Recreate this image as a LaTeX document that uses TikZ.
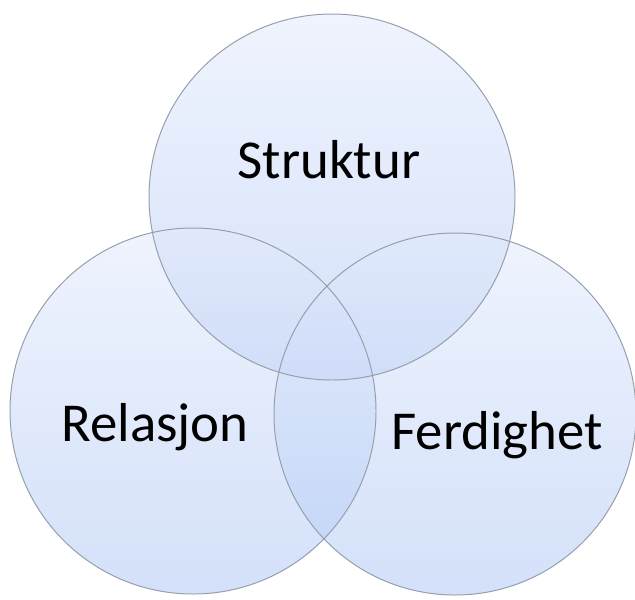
\documentclass[tikz,border=0pt]{standalone}
\usepackage{fontspec}
\setmainfont{Carlito}
\usepackage{xcolor}
\usepackage{tikz}
\definecolor{sirkeltopp}{RGB}{226,234,252}
\definecolor{sirkelbunn}{RGB}{176,200,245}
\definecolor{sirkelkant}{RGB}{150,158,172}
\def\rad{183}
\tikzset{
  sirkel/.style={circle, inner sep=0pt, minimum size=2*\rad*0.025cm,
    top color=sirkeltopp, bottom color=sirkelbunn, fill opacity=0.55},
  kant/.style={circle, inner sep=0pt, minimum size=2*\rad*0.025cm,
    draw=sirkelkant, line width=0.7pt},
  etikett/.style={font=\fontsize{39}{45}\selectfont, text=black, anchor=base}
}

\begin{document}
\begin{tikzpicture}[x=0.025cm, y=-0.025cm]
    \useasboundingbox (0,0) rectangle (635,599);

    % Sentrum for sirklene
    \coordinate (S) at (332,197);
    \coordinate (R) at (193,411);
    \coordinate (F) at (455,414);

    % Fyll
    \node[sirkel] (struktur) at (S) {};
    \node[sirkel] (relasjon) at (R) {};
    \node[sirkel, minimum size=2*181*0.025cm] (ferdighet) at (F) {};

    % Kanter
    \node[kant] at (S) {};
    \node[kant] at (R) {};
    \node[kant, minimum size=2*181*0.025cm] at (F) {};

    % Tekst (grunnlinje)
    \node[etikett] (tS) at (329,178) {Struktur};
    \node[etikett] (tR) at (155,441) {Relasjon};
    \node[etikett] (tF) at (497,449) {Ferdighet};
\end{tikzpicture}
\end{document}
